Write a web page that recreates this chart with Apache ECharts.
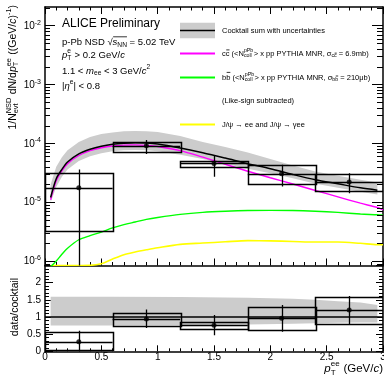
<!DOCTYPE html>
<html><head><meta charset="utf-8">
<script src="https://cdn.jsdelivr.net/npm/echarts@6/dist/echarts.min.js"></script>
<style>html,body{margin:0;padding:0;background:#fff;}#c{width:384px;height:377px;}</style>
</head><body><div id="c"></div>
<script>
const FONT = '"Liberation Sans", Arial, Helvetica, sans-serif';

// ---------- data ----------
const binLow    = [0, 0.6, 1.2, 1.8, 2.4];
const binHigh   = [0.6, 1.2, 1.8, 2.4, 3.0];
const binCenter = [0.3, 0.9, 1.5, 2.1, 2.7];
const yieldVal  = [1.75e-5, 9.1e-5, 4.55e-5, 3.05e-5, 2.2e-5];
const statLo    = [1e-7, 6.6e-5, 2.7e-5, 1.85e-5, 1.41e-5];
const statHi    = [3.6e-5, 1.14e-4, 6.1e-5, 4.3e-5, 3.1e-5];
const sysLo     = [3.3e-6, 7.2e-5, 3.9e-5, 2.05e-5, 1.5e-5];
const sysHi     = [3.15e-5, 1.07e-4, 5.0e-5, 4.26e-5, 2.95e-5];

const ratioVal    = [0.28, 0.94, 0.76, 0.96, 1.20];
const ratioStatLo = [-0.2, 0.68, 0.47, 0.57, 0.77];
const ratioStatHi = [0.60, 1.22, 1.06, 1.35, 1.61];
const ratioSysLo  = [0.03, 0.75, 0.65, 0.62, 0.78];
const ratioSysHi  = [0.55, 1.13, 0.86, 1.29, 1.57];

const curvePt  = [0.05, 0.1, 0.15, 0.2, 0.3, 0.4, 0.5, 0.6, 0.7, 0.8, 0.9, 1.0, 1.2, 1.4, 1.6, 1.8, 2.0, 2.2, 2.4, 2.6, 2.8, 2.95, 3.0];
const cocktail = [1.2e-5, 2.5e-5, 3.6e-5, 4.8e-5, 6.6e-5, 7.9e-5, 8.9e-5, 9.6e-5, 1.0e-4, 1.02e-4, 1.01e-4, 9.7e-5, 8.3e-5, 6.9e-5, 5.6e-5, 4.5e-5, 3.7e-5, 2.95e-5, 2.4e-5, 2.05e-5, 1.75e-5, 1.6e-5, null];
const bandHi   = [2.0e-5, 4.0e-5, 5.8e-5, 7.6e-5, 1.05e-4, 1.28e-4, 1.43e-4, 1.53e-4, 1.6e-4, 1.62e-4, 1.6e-4, 1.55e-4, 1.33e-4, 1.05e-4, 8.6e-5, 7.0e-5, 5.4e-5, 4.2e-5, 3.3e-5, 2.8e-5, 2.4e-5, 2.15e-5, null];
const bandLo   = [1.0e-5, 1.8e-5, 2.7e-5, 3.6e-5, 5.0e-5, 6.0e-5, 6.8e-5, 7.3e-5, 7.6e-5, 7.7e-5, 7.6e-5, 7.3e-5, 6.4e-5, 5.4e-5, 4.5e-5, 3.7e-5, 3.1e-5, 2.55e-5, 2.05e-5, 1.75e-5, 1.5e-5, 1.35e-5, null];
const charm    = [1.1e-5, 2.3e-5, 3.4e-5, 4.5e-5, 6.2e-5, 7.5e-5, 8.4e-5, 9.0e-5, 9.3e-5, 9.4e-5, 9.2e-5, 8.8e-5, 7.5e-5, 5.8e-5, 4.4e-5, 3.35e-5, 2.6e-5, 2.03e-5, 1.58e-5, 1.23e-5, 9.6e-6, 8.1e-6, 7.4e-6];
const beauty   = [8e-7, 1.0e-6, 1.3e-6, 1.65e-6, 2.3e-6, 2.7e-6, 3.1e-6, 3.65e-6, 4.15e-6, 4.6e-6, 5.1e-6, 5.5e-6, 6.2e-6, 6.7e-6, 7.0e-6, 7.2e-6, 7.25e-6, 7.2e-6, 7.0e-6, 6.7e-6, 6.3e-6, 6.1e-6, 6.0e-6];
const jpsi     = [8.4e-7, 8.4e-7, 8.4e-7, 8.4e-7, 8.4e-7, 8.45e-7, 9.0e-7, 1.08e-6, 1.28e-6, 1.42e-6, 1.55e-6, 1.68e-6, 1.92e-6, 2.02e-6, 2.12e-6, 2.22e-6, 2.2e-6, 2.15e-6, 2.1e-6, 2.1e-6, 2.0e-6, 1.9e-6, 1.9e-6];

const ratioBandPt = [0.05, 0.6, 1.2, 1.8, 2.2, 2.4, 2.6, 2.8, 2.95];
const ratioBandHi = [1.59, 1.59, 1.58, 1.56, 1.53, 1.50, 1.46, 1.42, 1.35];
const ratioBandLo = [0.75, 0.75, 0.76, 0.78, 0.80, 0.82, 0.83, 0.84, 0.84];

const logMajorTicks = [1e-6, 1e-5, 1e-4, 1e-3, 1e-2];
const logMajorExp   = ['-6', '-5', '-4', '-3', '-2'];
const YMIN = 8.4e-7, YMAX = 2.06e-2;

// ---------- helpers ----------
const mctx = document.createElement('canvas').getContext('2d');
function tw(t, size, it) { mctx.font = (it ? 'italic ' : '') + size + 'px ' + FONT; return mctx.measureText(t).width; }
function mg(pieces, base, color) {
  color = color || '#000';
  const ch = []; let x = 0; let ols = null;
  const add = (t, px, dy, size, it) => ch.push({type: 'text', x: px, y: dy, silent: true,
    style: {text: t, font: (it ? 'italic ' : '') + size + 'px ' + FONT, fill: color,
      textAlign: 'left', align: 'left', textVerticalAlign: 'middle', verticalAlign: 'middle'}});
  for (const p of pieces) {
    if (p.ss) {
      const s = base * 0.7; let w = 0;
      if (p.sup) { add(p.sup, x, -0.42 * base, s, p.supIt); w = Math.max(w, tw(p.sup, s, p.supIt)); }
      if (p.sub) { add(p.sub, x, 0.3 * base, s, p.subIt); w = Math.max(w, tw(p.sub, s, p.subIt)); }
      x += w + 0.5;
    } else if (p.olS) { ols = x; }
    else if (p.olE) {
      ch.push({type: 'line', silent: true, shape: {x1: ols + 0.5, y1: p.y * base, x2: x, y2: p.y * base}, style: {stroke: color, lineWidth: 0.8}});
    } else {
      const s = base * (p.s || 1); add(p.t, x, (p.dy || 0) * base, s, p.it); x += tw(p.t, s, p.it);
    }
  }
  return {children: ch, width: x};
}

const chart = echarts.init(document.getElementById('c'));

function xAx(grid, pos, labels, tl, ml) {
  return {type: 'value', gridIndex: grid, position: pos, min: 0, max: 3, interval: 0.5,
    axisLine: {show: true, onZero: false, lineStyle: {color: '#000', width: 1.5}},
    axisTick: {show: true, inside: true, length: tl, lineStyle: {color: '#000', width: 1}},
    minorTick: {show: true, splitNumber: 5, length: ml, lineStyle: {color: '#000', width: 1}},
    axisLabel: {show: labels, fontSize: 10, color: '#000', fontFamily: FONT, margin: 1},
    splitLine: {show: false}, minorSplitLine: {show: false}};
}
function yRatio(pos, labels) {
  return {type: 'value', gridIndex: 1, position: pos, min: 0, max: 2.5, interval: 0.5,
    axisLine: {show: true, onZero: false, lineStyle: {color: '#000', width: 1.5}},
    axisTick: {show: true, inside: true, length: pos === 'left' ? 8 : 7, lineStyle: {color: '#000', width: 1}},
    minorTick: {show: true, splitNumber: 5, length: 4, lineStyle: {color: '#000', width: 1}},
    axisLabel: {show: labels, fontSize: 10, color: '#000', fontFamily: FONT, margin: 4,
      formatter: v => (v > 2.2 ? '' : String(v))},
    splitLine: {show: false}, minorSplitLine: {show: false}};
}
function yLog(pos) {
  return {type: 'log', logBase: 10, gridIndex: 0, position: pos, min: YMIN, max: YMAX,
    axisLine: {show: true, onZero: false, lineStyle: {color: '#000', width: 1.5}},
    axisTick: {show: false}, axisLabel: {show: false}, splitLine: {show: false}};
}

function bandRender(xs, hi, lo) {
  return function (params, api) {
    const up = [], dn = [];
    for (let i = 0; i < xs.length; i++) {
      if (hi[i] == null) continue;
      up.push(api.coord([xs[i], hi[i]])); dn.push(api.coord([xs[i], lo[i]]));
    }
    return {type: 'polygon', shape: {points: up.concat(dn.reverse())}, style: {fill: '#cccccc'}};
  };
}
function boxRender(params, api) {
  const a = api.coord([api.value(0), api.value(3)]), b = api.coord([api.value(1), api.value(2)]);
  return {type: 'rect', shape: {x: Math.round(a[0]) + 0.5, y: Math.round(a[1]) + 0.5, width: Math.round(b[0] - a[0]), height: Math.round(b[1] - a[1])},
    style: {fill: 'none', stroke: '#000', lineWidth: 1.5}};
}
function errRender(params, api) {
  const c = api.value(0), lo = api.value(1), hi = api.value(2), bl = api.value(3), bh = api.value(4), v = api.value(5);
  const a = api.coord([c, hi]), b = api.coord([c, lo]), l = api.coord([bl, v]), r = api.coord([bh, v]);
  const xs = Math.round(a[0]) + 0.5, ys = Math.round(l[1]) + 0.5;
  return {type: 'group', children: [
    {type: 'line', shape: {x1: xs, y1: a[1], x2: xs, y2: b[1]}, style: {stroke: '#000', lineWidth: 1.3}},
    {type: 'line', shape: {x1: l[0], y1: ys, x2: r[0], y2: ys}, style: {stroke: '#000', lineWidth: 1.3}}]};
}
function tickRender(params, api) {
  const v = api.value(1), major = api.value(2) === 1;
  const L = api.coord([0, v]), R = api.coord([3, v]);
  const y = Math.round(L[1]) + 0.5;
  const ll = major ? 10 : 5, lr = major ? 11 : 6;
  return {type: 'group', children: [
    {type: 'line', shape: {x1: L[0], y1: y, x2: L[0] + ll, y2: y}, style: {stroke: '#000', lineWidth: 1}},
    {type: 'line', shape: {x1: R[0] - lr, y1: y, x2: R[0], y2: y}, style: {stroke: '#000', lineWidth: 1}}]};
}

const logTickData = [];
logMajorTicks.forEach(v => logTickData.push([0, v, 1]));
for (let e = -7; e <= -2; e++) for (let k = 2; k <= 9; k++) {
  const v = k * Math.pow(10, e);
  if (v > YMIN && v < YMAX) logTickData.push([0, v, 0]);
}

const line = (d, color, w, z) => ({type: 'line', xAxisIndex: 0, yAxisIndex: 0, data: curvePt.map((x, i) => [x, d[i]]),
  showSymbol: false, smooth: 0.3, lineStyle: {color: color, width: w}, z: z, clip: true, silent: true});

const option = {
  animation: false,
  textStyle: {fontFamily: FONT},
  grid: [
    {left: 45, top: 7, right: 1, height: 258.5, outerBoundsMode: 'none', containLabel: false},
    {left: 45, top: 265.5, right: 1, height: 85.8, outerBoundsMode: 'none', containLabel: false}
  ],
  xAxis: [xAx(0, 'bottom', false, 7, 3.5), xAx(0, 'top', false, 7, 3.5), xAx(1, 'bottom', true, 6, 3)],
  yAxis: [yLog('left'), yLog('right'), yRatio('left', true), yRatio('right', false)],
  series: [
    {type: 'custom', xAxisIndex: 0, yAxisIndex: 0, data: [[1, 1e-4]], clip: true, z: 1, silent: true,
      renderItem: bandRender(curvePt, bandHi, bandLo)},
    line(jpsi, '#ffff00', 1.6, 2),
    line(beauty, '#00ff00', 1.4, 2),
    line(charm, '#ff00ff', 1.4, 2),
    line(cocktail, '#000000', 1.5, 3),
    {type: 'custom', xAxisIndex: 0, yAxisIndex: 0, clip: true, z: 4, silent: true, encode: {x: [0, 1], y: [2, 3]},
      data: binLow.map((b, i) => [b, binHigh[i], sysLo[i], sysHi[i]]), renderItem: boxRender},
    {type: 'custom', xAxisIndex: 0, yAxisIndex: 0, clip: true, z: 5, silent: true, encode: {x: [0, 3, 4], y: [1, 2, 5]},
      data: binCenter.map((c, i) => [c, statLo[i], statHi[i], binLow[i], binHigh[i], yieldVal[i]]), renderItem: errRender},
    {type: 'scatter', xAxisIndex: 0, yAxisIndex: 0, data: binCenter.map((c, i) => [c, yieldVal[i]]),
      symbol: 'circle', symbolSize: 5, itemStyle: {color: '#000'}, z: 6, silent: true},
    {type: 'custom', xAxisIndex: 0, yAxisIndex: 0, z: 7, silent: true, encode: {x: 0, y: 1}, data: logTickData, renderItem: tickRender},

    {type: 'custom', xAxisIndex: 2, yAxisIndex: 2, data: [[1, 1]], clip: true, z: 1, silent: true,
      renderItem: bandRender(ratioBandPt, ratioBandHi, ratioBandLo)},
    {type: 'line', xAxisIndex: 2, yAxisIndex: 2, data: [[0, 1], [3, 1]], showSymbol: false, silent: true,
      lineStyle: {color: '#000', width: 1.3}, z: 3},
    {type: 'custom', xAxisIndex: 2, yAxisIndex: 2, clip: true, z: 4, silent: true, encode: {x: [0, 1], y: [2, 3]},
      data: binLow.map((b, i) => [b, binHigh[i], ratioSysLo[i], ratioSysHi[i]]), renderItem: boxRender},
    {type: 'custom', xAxisIndex: 2, yAxisIndex: 2, clip: true, z: 5, silent: true, encode: {x: [0, 3, 4], y: [1, 2, 5]},
      data: binCenter.map((c, i) => [c, ratioStatLo[i], ratioStatHi[i], binLow[i], binHigh[i], ratioVal[i]]), renderItem: errRender},
    {type: 'scatter', xAxisIndex: 2, yAxisIndex: 2, data: binCenter.map((c, i) => [c, ratioVal[i]]),
      symbol: 'circle', symbolSize: 5, itemStyle: {color: '#000'}, z: 6, silent: true}
  ]
};
chart.setOption(option);

// ---------- texts, labels, legend ----------
const g = [];
function place(m, x, y, rot) { g.push({type: 'group', x: x, y: y, rotation: rot || 0, silent: true, children: m.children}); }

logMajorTicks.forEach((v, i) => {
  const y = chart.convertToPixel({yAxisIndex: 0}, v);
  const m = mg([{t: '10'}, {t: logMajorExp[i], s: 0.7, dy: -0.33}], 10);
  place(m, 41 - m.width, y + 0.5);
});

// y titles
let m = mg([{t: '1/N'}, {ss: 1, sup: 'NSD', sub: 'evt'}, {t: ' dN/d'}, {t: 'p', it: 1}, {ss: 1, sup: 'ee', sub: 'T'},
  {t: ' ((GeV/'}, {t: 'c', it: 1}, {t: ')'}, {t: '-1', s: 0.7, dy: -0.38}, {t: ')'}], 10.5);
place(m, 13, 5 + m.width, Math.PI / 2);
m = mg([{t: 'data/cocktail'}], 10.5);
place(m, 15, 307 + m.width / 2, Math.PI / 2);
// x title
m = mg([{t: 'p', it: 1}, {ss: 1, sup: 'ee', sub: 'T'}, {t: ' (GeV/'}, {t: 'c', it: 1}, {t: ')'}], 11.5);
place(m, 383 - m.width, 369);

// header
place(mg([{t: 'ALICE Preliminary'}], 12), 62, 24);
place(mg([{t: 'p-Pb NSD '}, {t: '√'}, {olS: 1}, {t: 's', it: 1}, {t: 'NN', s: 0.7, dy: 0.28}, {olE: 1, y: -0.62}, {t: ' = 5.02 TeV'}], 9.5), 62, 42.7);
place(mg([{t: 'p', it: 1}, {ss: 1, sup: 'e', sub: 'T'}, {t: ' > 0.2 GeV/'}, {t: 'c', it: 1}], 9.5), 62, 55.5);
place(mg([{t: '1.1 < '}, {t: 'm', it: 1}, {t: 'ee', s: 0.7, dy: 0.28}, {t: ' < 3 GeV/'}, {t: 'c', it: 1}, {t: '2', s: 0.7, dy: -0.36}], 9.5), 62, 71);
place(mg([{t: '|'}, {t: 'η', it: 1}, {t: 'e', s: 0.7, dy: -0.36}, {t: '| < 0.8'}], 9.5), 62, 86);

// legend
g.push({type: 'rect', silent: true, shape: {x: 180, y: 22.7, width: 35, height: 15.6}, style: {fill: '#cccccc'}});
g.push({type: 'line', silent: true, shape: {x1: 180, y1: 30.5, x2: 215, y2: 30.5}, style: {stroke: '#000', lineWidth: 1.5}});
g.push({type: 'line', silent: true, shape: {x1: 180, y1: 53.5, x2: 215, y2: 53.5}, style: {stroke: '#ff00ff', lineWidth: 2}});
g.push({type: 'line', silent: true, shape: {x1: 180, y1: 77.5, x2: 215, y2: 77.5}, style: {stroke: '#00ff00', lineWidth: 2}});
g.push({type: 'line', silent: true, shape: {x1: 180, y1: 124.5, x2: 215, y2: 124.5}, style: {stroke: '#ffff00', lineWidth: 2}});
const LB = 7.5, LX = 222;
place(mg([{t: 'Cocktail sum with uncertainties'}], LB), LX, 30.7);
place(mg([{t: 'c'}, {olS: 1}, {t: 'c'}, {olE: 1, y: -0.48}, {t: ' (<N'}, {ss: 1, sup: 'pPb', sub: 'coll'}, {t: '> x pp PYTHIA MNR, σ'},
  {t: 'c', s: 0.7, dy: 0.28}, {olS: 1}, {t: 'c', s: 0.7, dy: 0.28}, {olE: 1, y: -0.05}, {t: ' = 6.9mb)'}], LB), LX, 53.5);
place(mg([{t: 'b'}, {olS: 1}, {t: 'b'}, {olE: 1, y: -0.68}, {t: ' (<N'}, {ss: 1, sup: 'pPb', sub: 'coll'}, {t: '> x pp PYTHIA MNR, σ'},
  {t: 'b', s: 0.7, dy: 0.28}, {olS: 1}, {t: 'b', s: 0.7, dy: 0.28}, {olE: 1, y: -0.2}, {t: ' = 210μb)'}], LB), LX, 77.5);
place(mg([{t: '(Like-sign subtracted)'}], LB), LX, 100.5);
place(mg([{t: 'J/ψ → ee and J/ψ → γee'}], LB), LX, 124.5);

chart.setOption({graphic: {elements: g}});
</script></body></html>
